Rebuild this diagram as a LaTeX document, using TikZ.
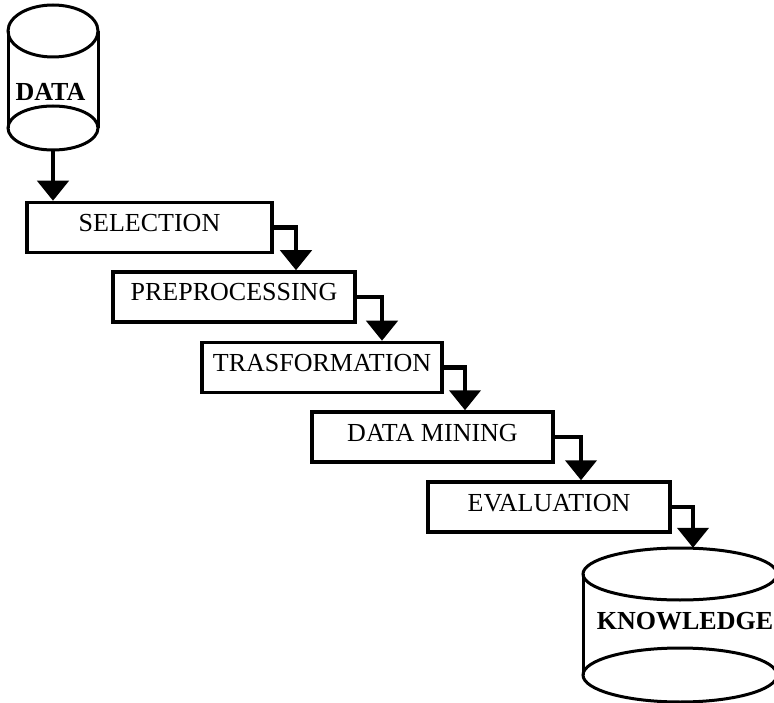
\documentclass[tikz,border=0pt]{standalone}
\usepackage{fontspec}
\setmainfont{Liberation Serif}
\usetikzlibrary{arrows.meta}
\begin{document}
\begin{tikzpicture}[x=1pt,y=-1pt,
  stepbox/.style={draw, line width=3.5pt, minimum height=50pt, inner sep=0pt,
    font=\fontsize{26}{30}\selectfont, text height=18pt, text depth=10pt},
  flow/.style={line width=4.5pt, -{Triangle[width=31pt,length=20pt]}},
  cyl/.style={line width=3pt},
  cyltext/.style={font=\fontsize{26}{30}\selectfont\bfseries, inner sep=0pt},
  ghost/.style={inner sep=0pt}]
\useasboundingbox (0,0) rectangle (774,703);
\clip (0,0) rectangle (774,703);

% DATA cylinder
\draw[cyl] (53,31) ellipse [x radius=45pt, y radius=26pt];
\draw[cyl] (53,128) ellipse [x radius=45pt, y radius=22pt];
\draw[cyl] (8,31) -- (8,128) (98,31) -- (98,128);
\node[ghost, minimum width=90pt, minimum height=145pt] (data) at (53,77.5) {};
\node[cyltext] (datatxt) at (50.5,92) {DATA};

% KNOWLEDGE cylinder
\draw[cyl] (680,574) ellipse [x radius=97pt, y radius=26pt];
\draw[cyl] (680,675) ellipse [x radius=97pt, y radius=27pt];
\draw[cyl] (583,574) -- (583,675) (777,574) -- (777,675);
\node[ghost, minimum width=194pt, minimum height=154pt] (know) at (680,625) {};
\node[cyltext] (knowtxt) at (685,621) {KNOWLEDGE};

% steps
\node[stepbox, minimum width=245pt] (sel)  at (149.5,227.5) {SELECTION};
\node[stepbox, minimum width=242pt] (prep) at (234,297)     {PREPROCESSING};
\node[stepbox, minimum width=240pt] (tras) at (322,367.5)   {TRASFORMATION};
\node[stepbox, minimum width=241pt] (dm)   at (432.5,437)   {DATA MINING};
\node[stepbox, minimum width=242pt] (eval) at (549,507)     {EVALUATION};

% elbow x positions
\coordinate (k1) at (296,0);
\coordinate (k2) at (382,0);
\coordinate (k3) at (465,0);
\coordinate (k4) at (581,0);
\coordinate (k5) at (693,0);

% connectors
\draw[flow] (data.south) -- (data.south |- sel.north);
\draw[flow] (sel.east)  -| (k1 |- prep.north);
\draw[flow] (prep.east) -| (k2 |- tras.north);
\draw[flow] (tras.east) -| (k3 |- dm.north);
\draw[flow] (dm.east)   -| (k4 |- eval.north);
\draw[flow] (eval.east) -| (k5 |- know.north);
\end{tikzpicture}
\end{document}
